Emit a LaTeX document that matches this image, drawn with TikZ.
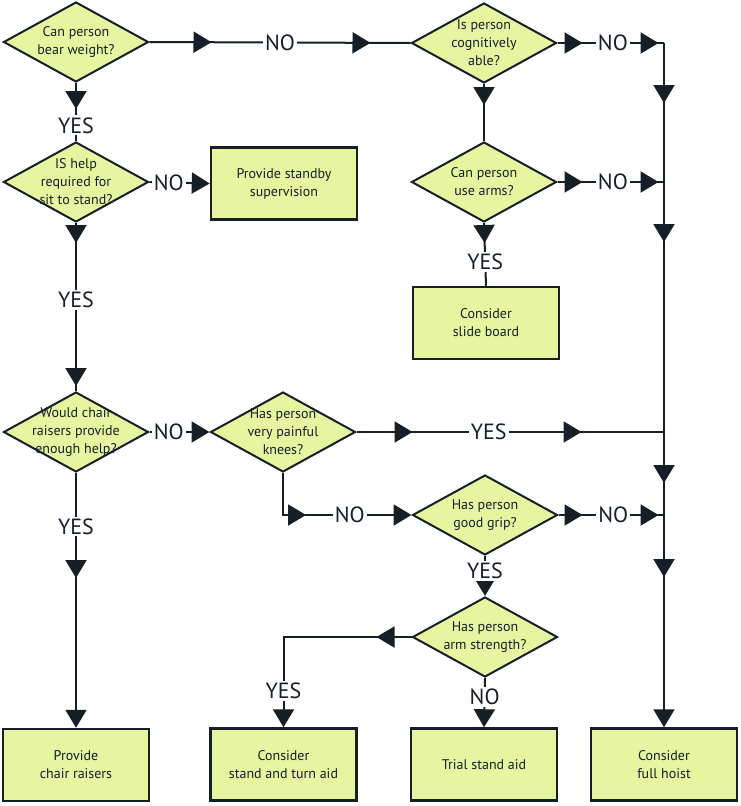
\documentclass[tikz,border=0pt]{standalone}
\usepackage{fontspec}
\setmainfont{PT Sans}
\usetikzlibrary{shapes.geometric,arrows.meta,decorations.markings}
\definecolor{boxfill}{RGB}{231,245,160}
\definecolor{ink}{RGB}{22,30,40}
\begin{document}
\begin{tikzpicture}[x=1pt, y=-1pt,
                    every node/.style={font=\fontsize{14}{18}\selectfont, text=ink},
                    question/.style={diamond, draw=ink, line width=2pt, fill=boxfill,
                      minimum width=145pt, minimum height=80pt, inner sep=0pt},
                    action/.style={rectangle, draw=ink, line width=2.5pt, fill=boxfill,
                      minimum width=146pt, minimum height=72pt, align=center},
                    flow/.style={ink, line width=2pt},
                    answer/.style={fill=white, inner sep=2pt, font=\fontsize{22}{22}\selectfont},
                    tipat/.style={postaction={decorate, decoration={markings,
                      mark=at position #1 with {\arrow{Triangle[length=18pt,width=21pt]}}}}},
                    tipend/.style={-{Triangle[length=18pt,width=21pt]}}]
  \useasboundingbox (0,0) rectangle (740,806);

  \node[question, label={[align=center]center:{Can person\\bear weight?}}] (weight) at (76,42) {};
  \node[question, label={[align=center]center:{Is person\\cognitively\\able?}}] (cognitive) at (484,43) {};
  \node[question, label={[align=center]center:{IS help\\required for\\sit to stand?}}] (help) at (76,182) {};
  \node[action] (standby) at (284,183.5) {Provide standby\\supervision};
  \node[question, label={[align=center]center:{Can person\\use arms?}}] (arms) at (484,182) {};
  \node[action] (slide) at (486,323) {Consider\\slide board};
  \node[question, label={[align=center]center:{Would chair\\raisers provide\\enough help?}}] (raisers) at (76,432) {};
  \node[question, label={[align=center]center:{Has person\\very painful\\knees?}}] (knees) at (283,432) {};
  \node[question, label={[align=center]center:{Has person\\good grip?}}] (grip) at (485,515) {};
  \node[question, label={[align=center]center:{Has person\\arm strength?}}] (strength) at (485,637) {};
  \node[action] (chair) at (76,765) {Provide\\chair raisers};
  \node[action] (turn) at (283.5,764.5) {Consider\\stand and turn aid};
  \node[action] (trial) at (484,764.5) {Trial stand aid};
  \node[action] (hoist) at (664,764.5) {Consider\\full hoist};
  \coordinate (join1) at (664,43);
  \coordinate (join2) at (664,182);
  \coordinate (join3) at (664,432);
  \coordinate (join4) at (664,515);

  \draw[flow, tipat=62pt, tipat=221pt] (weight.east) -- node[answer] {NO} (cognitive.west);
  \draw[flow, tipat=25pt, tipat=101pt] (cognitive.east) -- node[answer, pos=0.52] {NO} (join1);
  \draw[flow, tipat=26pt] (weight.south) -- node[answer, pos=0.73] {YES} (help.north);
  \draw[flow, tipend] (help.east) -- node[answer, pos=0.32] {NO} (standby.west);
  \draw[flow, tipat=20pt, tipat=163pt] (help.south) -- node[answer, pos=0.46] {YES} (raisers.north);
  \draw[flow, tipat=21pt] (cognitive.south) -- (arms.north);
  \draw[flow, tipat=25pt, tipat=101pt] (arms.east) -- node[answer, pos=0.52] {NO} (join2);
  \draw[flow, tipat=20pt] (arms.south) -- node[answer, pos=0.62] {YES} (slide.north);
  \draw[flow, tipend, tipat=105pt] (raisers.south) -- node[answer, pos=0.21] {YES} (chair.north);
  \draw[flow, tipend] (raisers.east) -- node[answer, pos=0.32] {NO} (knees.west);
  \draw[flow, tipat=56pt, tipat=225pt] (knees.east) -- node[answer, pos=0.43] {YES} (join3);
  \draw[flow, tipend, tipat=65pt] (knees.south) |- node[answer, pos=0.76] {NO} (grip.west);
  \draw[flow, tipat=24pt, tipat=100pt] (grip.east) -- node[answer, pos=0.52] {NO} (join4);
  \draw[flow, tipend] (grip.south) -- node[answer, pos=0.37] {YES} (strength.north);
  \draw[flow, tipend, tipat=35pt] (strength.west) -| node[answer, pos=0.8] {YES} (turn.north);
  \draw[flow, tipend] (strength.south) -- node[answer, pos=0.38] {NO} (trial.north);
  \draw[flow, tipend, tipat=60pt, tipat=199pt, tipat=440pt, tipat=534pt] (join1) -- (hoist.north);
\end{tikzpicture}
\end{document}
